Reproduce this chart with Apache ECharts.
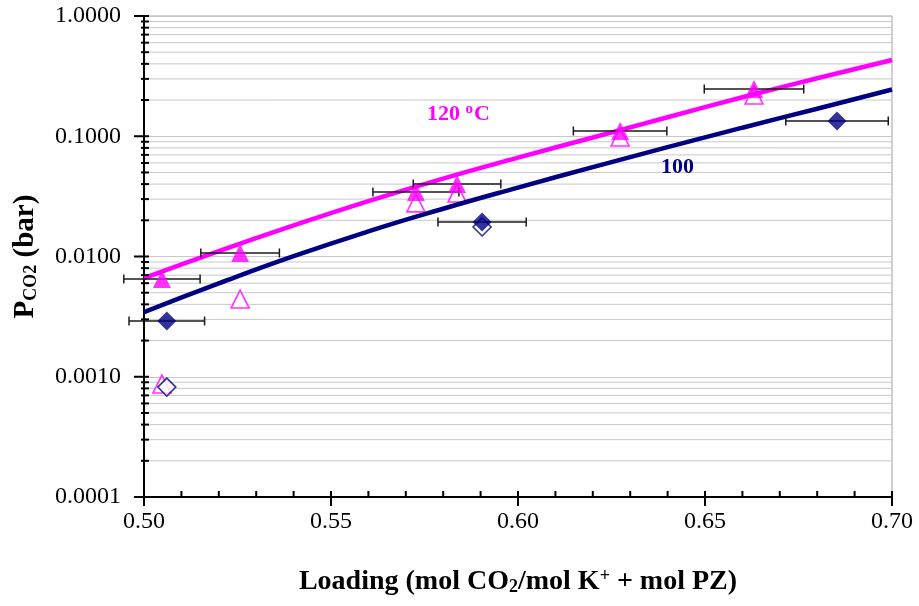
<!DOCTYPE html>
<html>
<head>
<meta charset="utf-8">
<script src="https://cdn.jsdelivr.net/npm/echarts@6/dist/echarts.min.js"></script>
<style>html,body{margin:0;padding:0;background:#fff}#c{width:919px;height:606px}</style>
</head>
<body>
<div id="c"></div>
<script>
// ---- data ----
const xTickLabels = ['0.50','0.55','0.60','0.65','0.70'];
const yTickLabels = ['0.0001','0.0010','0.0100','0.1000','1.0000'];

// 120 C measured (filled triangles) and second set (open triangles)
const loading120 = [0.5048, 0.5257, 0.5727, 0.5837, 0.6273, 0.6631];
const pco2_120_filled = [0.0065, 0.0107, 0.0344, 0.0401, 0.1107, 0.247];
const pco2_120_open = [0.00087, 0.00443, 0.0279, 0.0337, 0.0986, 0.220];
const err120 = [0.0102, 0.0105, 0.0115, 0.0117, 0.0125, 0.0133];

// 100 C (filled diamonds) and open diamonds
const loading100 = [0.5061, 0.5904, 0.6853];
const pco2_100_filled = [0.00291, 0.0194, 0.134];
const loading100_open = [0.5061, 0.5904];
const pco2_100_open = [0.00082, 0.0176];
const err100 = [0.0101, 0.0118, 0.0137];

// model curves
const curveX = [0.50, 0.52, 0.54, 0.56, 0.58, 0.60, 0.62, 0.64, 0.66, 0.68, 0.70];
const curve120 = [0.00661, 0.01109, 0.01811, 0.02884, 0.04446, 0.06637, 0.0977, 0.1439, 0.2109, 0.3034, 0.4305];
const curve100 = [0.00345, 0.00597, 0.01005, 0.01618, 0.02495, 0.03741, 0.05534, 0.0811, 0.1178, 0.1694, 0.245];

// ---- derived helpers ----
const X_MIN = 0.5, X_MAX = 0.7;
const decades = [0.0001, 0.001, 0.01, 0.1];
const yMinor = [];
decades.forEach(d => { for (let k = 2; k <= 9; k++) yMinor.push(+(d * k).toPrecision(3)); });
const yMajor = yTickLabels.map(Number);
const xMajor = xTickLabels.map(Number);
const xMinor = [];
for (let i = 1; i < 20; i++) { if (i % 5) xMinor.push(+(0.5 + i * 0.01).toFixed(2)); }

const PINK = '#FF00FF', NAVY = '#000080';
const FONT = '"Liberation Serif", "Times New Roman", serif';

const chart = echarts.init(document.getElementById('c'), null, {renderer: 'canvas'});

function gridRender(params, api) {
  const v = api.value(1);
  const a = api.coord([X_MIN, v]), b = api.coord([X_MAX, v]);
  return {type: 'line', shape: {x1: a[0], y1: a[1], x2: b[0], y2: b[1]}, style: {stroke: '#c8c8c8', lineWidth: 1}};
}
function yTickRender(major) {
  return function (params, api) {
    const p = api.coord([X_MIN, api.value(1)]);
    return {type: 'line', shape: {x1: p[0] - (major ? 10 : 3), y1: p[1], x2: p[0] + 5, y2: p[1]}, style: {stroke: '#000', lineWidth: 2}};
  };
}
function xTickRender(major) {
  return function (params, api) {
    const p = api.coord([api.value(0), 0.0001]);
    return {type: 'line', shape: {x1: p[0], y1: p[1] - 6, x2: p[0], y2: p[1] + (major ? 9 : 0)}, style: {stroke: '#000', lineWidth: 2}};
  };
}
function errRender(params, api) {
  const x = api.value(0), y = api.value(1), e = api.value(2);
  const a = api.coord([x - e, y]), b = api.coord([x + e, y]);
  const h = 4.5;
  const st = {stroke: '#1a1a1a', lineWidth: 1.5};
  return {type: 'group', children: [
    {type: 'line', shape: {x1: a[0], y1: a[1], x2: b[0], y2: b[1]}, style: st},
    {type: 'line', shape: {x1: a[0], y1: a[1] - h, x2: a[0], y2: a[1] + h}, style: st},
    {type: 'line', shape: {x1: b[0], y1: b[1] - h, x2: b[0], y2: b[1] + h}, style: st}
  ]};
}

const zip = (xs, ys) => xs.map((x, i) => [x, ys[i]]);
const zip3 = (xs, ys, es) => xs.map((x, i) => [x, ys[i], es[i]]);

chart.setOption({
  animation: false,
  backgroundColor: '#fff',
  grid: {left: 144, right: 27, top: 16, bottom: 109, show: true, borderColor: '#a0a0a0', borderWidth: 1, backgroundColor: 'transparent'},
  xAxis: {
    type: 'value', min: X_MIN, max: X_MAX, interval: 0.05,
    axisLine: {show: true, onZero: false, lineStyle: {color: '#000', width: 2}},
    axisTick: {show: false},
    splitLine: {show: false},
    axisLabel: {margin: 13, fontFamily: FONT, fontSize: 24, color: '#000', formatter: v => v.toFixed(2)},
    name: '{b|Loading (mol CO}{s|2}{b|/mol K}{p|+}{b| + mol PZ)}',
    nameLocation: 'middle', nameGap: 70,
    nameTextStyle: {rich: {
      b: {fontFamily: FONT, fontSize: 28, fontWeight: 'bold', color: '#000'},
      s: {fontFamily: FONT, fontSize: 18, fontWeight: 'bold', color: '#000', verticalAlign: 'bottom', padding: [9, 0, 0, 0]},
      p: {fontFamily: FONT, fontSize: 18, fontWeight: 'bold', color: '#000', verticalAlign: 'top', padding: [0, 0, 11, 0]}
    }}
  },
  yAxis: {
    type: 'log', logBase: 10, min: 0.0001, max: 1,
    axisLine: {show: true, onZero: false, lineStyle: {color: '#000', width: 2}},
    axisTick: {show: false},
    splitLine: {show: true, lineStyle: {color: '#c8c8c8', width: 1}},
    axisLabel: {margin: 23, fontFamily: FONT, fontSize: 24, color: '#000', formatter: v => (+v).toFixed(4)},
    name: '{b|P}{s|CO2}{b| (bar)}',
    nameLocation: 'middle', nameGap: 104, nameRotate: 90,
    nameTextStyle: {rich: {
      b: {fontFamily: FONT, fontSize: 29, fontWeight: 'bold', color: '#000'},
      s: {fontFamily: FONT, fontSize: 18, fontWeight: 'bold', color: '#000', verticalAlign: 'bottom', padding: [9, 0, 0, 0]}
    }}
  },
  series: [
    {type: 'custom', name: 'minorGrid', z: 1, silent: true, data: yMinor.map(v => [X_MIN, v]), renderItem: gridRender},
    {type: 'custom', name: 'yMajorTicks', z: 6, silent: true, clip: false, data: yMajor.map(v => [X_MIN, v]), renderItem: yTickRender(true)},
    {type: 'custom', name: 'yMinorTicks', z: 6, silent: true, clip: false, data: yMinor.map(v => [X_MIN, v]), renderItem: yTickRender(false)},
    {type: 'custom', name: 'xMajorTicks', z: 6, silent: true, clip: false, data: xMajor.map(v => [v, 0.0001]), renderItem: xTickRender(true)},
    {type: 'custom', name: 'xMinorTicks', z: 6, silent: true, clip: false, data: xMinor.map(v => [v, 0.0001]), renderItem: xTickRender(false)},
    {type: 'scatter', name: '120 open', z: 2, symbol: 'triangle', symbolSize: 18,
      itemStyle: {color: '#fff', borderColor: PINK, borderWidth: 1.6}, data: zip(loading120, pco2_120_open)},
    {type: 'scatter', name: '100 open', z: 2, symbol: 'diamond', symbolSize: 18,
      itemStyle: {color: '#fff', borderColor: NAVY, borderWidth: 1.6}, data: zip(loading100_open, pco2_100_open)},
    {type: 'line', name: '120 model', z: 3, smooth: true, showSymbol: false, symbol: 'none',
      lineStyle: {color: PINK, width: 4.5}, data: zip(curveX, curve120)},
    {type: 'line', name: '100 model', z: 3, smooth: true, showSymbol: false, symbol: 'none',
      lineStyle: {color: NAVY, width: 4.5}, data: zip(curveX, curve100)},
    {type: 'custom', name: 'err120', z: 4, clip: false, silent: true, data: zip3(loading120, pco2_120_filled, err120), renderItem: errRender},
    {type: 'custom', name: 'err100', z: 4, clip: false, silent: true, data: zip3(loading100, pco2_100_filled, err100), renderItem: errRender},
    {type: 'scatter', name: '120 filled', z: 5, symbol: 'triangle', symbolSize: 18,
      itemStyle: {color: PINK}, data: zip(loading120, pco2_120_filled)},
    {type: 'scatter', name: '100 filled', z: 5, symbol: 'diamond', symbolSize: 19,
      itemStyle: {color: NAVY}, data: zip(loading100, pco2_100_filled)}
  ],
  graphic: [
    {type: 'text', left: 427, top: 102, z: 10, style: {
      text: '{b|120 }{s|o}{b|C}',
      rich: {
        b: {fontFamily: FONT, fontSize: 22, fontWeight: 'bold', fill: PINK},
        s: {fontFamily: FONT, fontSize: 15, fontWeight: 'bold', fill: PINK, verticalAlign: 'top', padding: [0, 1, 10, 0]}
      }}},
    {type: 'text', left: 661, top: 156, z: 10, style: {
      text: '100', fontFamily: FONT, fontSize: 22, fontWeight: 'bold', fill: NAVY}}
  ]
});
</script>
</body>
</html>
